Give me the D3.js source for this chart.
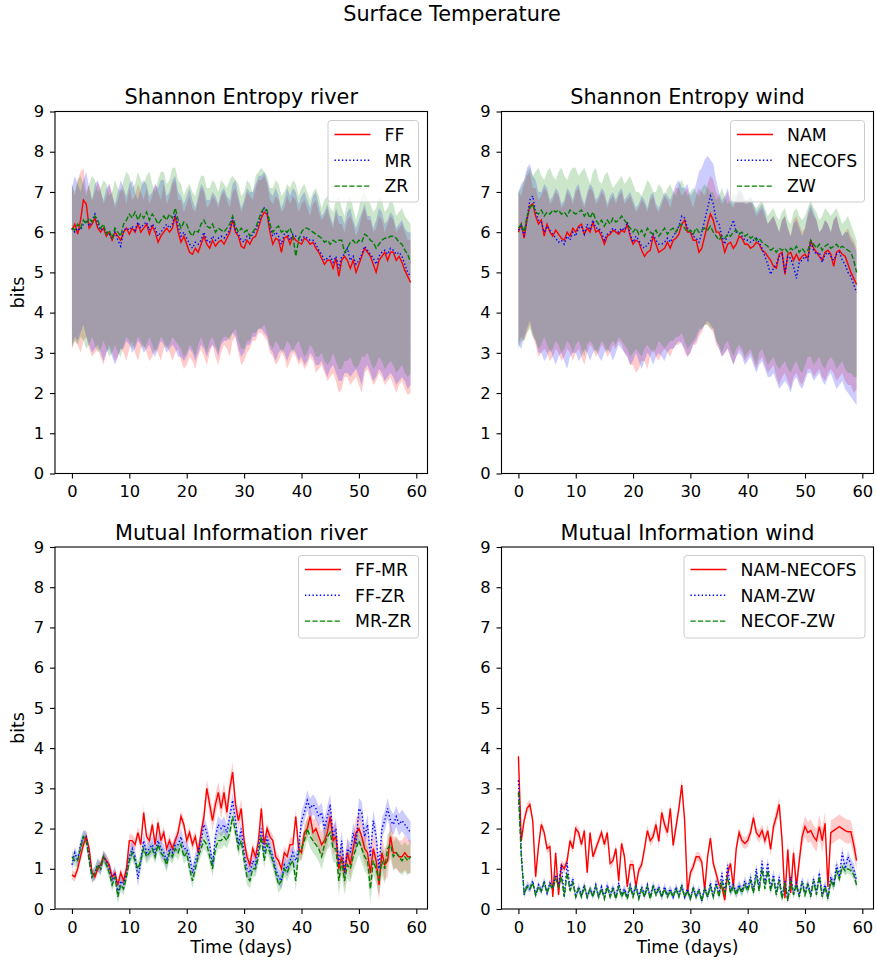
<!DOCTYPE html>
<html>
<head>
<meta charset="utf-8">
<script src="https://cdn.jsdelivr.net/npm/d3@7"></script>
<style>
  body { margin: 0; background: #fff; }
  text { font-family: "DejaVu Sans", sans-serif; fill: #000; }
</style>
</head>
<body>
<div id="chart"></div>
<script>
const WIDTH = 877;
const HEIGHT = 964;
const STEP = 0.5; // days between samples, t = 0..59

const X_TICKS = [0, 10, 20, 30, 40, 50, 60];
const Y_TICKS = [0, 1, 2, 3, 4, 5, 6, 7, 8, 9];

// ---- Shannon entropy, river
const seRiverFF = [
  6.05,6.2,5.95,6.3,6.8,6.7,6.1,6.2,6.35,6.1,
  6.0,6.1,5.9,6.0,5.8,6.0,5.9,5.8,6.0,6.1,
  5.95,6.1,6.0,6.2,6.0,6.1,6.2,5.95,6.15,6.0,
  5.75,5.9,6.0,6.1,6.0,6.1,6.4,6.0,5.75,5.9,
  5.7,5.5,5.45,5.6,5.5,5.7,5.9,5.7,5.6,5.8,
  5.65,5.75,5.8,5.7,5.85,6.0,6.3,6.0,5.9,5.65,
  5.6,5.8,5.7,5.85,5.9,6.1,6.35,6.5,6.45,6.0,
  5.7,5.85,5.8,5.5,5.85,5.9,5.7,5.9,5.8,5.75,
  5.7,5.85,5.8,5.7,5.75,5.6,5.5,5.35,5.2,5.3,
  5.3,5.1,5.35,4.9,5.3,5.4,5.3,5.1,5.3,5.0,
  5.2,5.4,5.6,5.5,5.4,5.2,5.0,5.3,5.4,5.5,
  5.3,5.5,5.5,5.3,5.4,5.25,5.05,4.9,4.75
];
const seRiverMR = [
  6.1,6.0,6.1,6.05,6.2,6.3,6.15,6.3,6.45,6.2,
  6.05,6.1,6.0,5.95,5.85,6.0,5.8,5.65,6.05,6.1,
  6.05,6.15,6.05,6.25,6.1,6.2,6.25,6.05,6.2,6.1,
  5.9,6.0,6.1,6.2,6.1,6.2,6.45,6.15,5.9,6.0,
  5.85,5.7,5.6,5.75,5.7,5.8,6.0,5.8,5.75,5.9,
  5.8,5.85,5.9,5.85,5.95,6.05,6.35,6.05,5.95,5.8,
  5.75,5.9,5.85,5.95,6.05,6.2,6.45,6.6,6.5,6.1,
  5.9,6.0,5.9,5.7,5.95,6.0,5.8,5.95,5.9,5.85,
  5.8,5.9,5.85,5.8,5.8,5.7,5.55,5.45,5.3,5.35,
  5.4,5.25,5.4,5.1,5.4,5.45,5.6,5.3,5.4,5.2,
  5.3,5.45,5.65,5.55,5.45,5.35,5.2,5.4,5.5,5.55,
  5.45,5.6,5.55,5.45,5.5,5.4,5.2,5.0,4.9
];
const seRiverZR = [
  6.1,6.05,6.2,6.1,6.3,6.2,6.35,6.25,6.4,6.3,
  6.1,6.2,5.95,6.05,5.85,6.1,6.0,5.9,6.2,6.3,
  6.45,6.35,6.5,6.3,6.45,6.35,6.5,6.3,6.45,6.35,
  6.2,6.3,6.4,6.3,6.45,6.35,6.6,6.3,6.1,6.25,
  6.2,6.0,5.9,6.05,6.0,6.2,6.3,6.15,6.1,6.2,
  6.0,6.1,6.05,6.0,6.1,6.2,6.4,6.15,6.0,6.1,
  6.0,6.05,5.9,6.0,6.1,6.3,6.5,6.6,6.55,6.2,
  6.0,6.1,6.15,6.0,6.05,6.0,6.1,5.9,5.4,5.8,
  6.0,6.1,6.1,6.05,6.0,5.95,5.9,5.85,5.75,5.8,
  5.7,5.8,5.75,5.8,5.8,5.5,5.6,5.75,5.8,5.7,
  5.8,5.75,5.95,5.9,5.8,5.75,5.6,5.7,5.8,5.85,
  5.85,5.9,5.9,5.85,5.75,5.7,5.55,5.45,5.25
];

// ---- Shannon entropy, wind
const seWindNAM = [
  6.0,6.2,5.85,6.3,6.65,6.7,6.4,6.2,6.3,5.9,
  6.2,6.0,5.9,6.05,5.95,5.85,5.8,6.0,5.9,6.1,
  6.0,6.15,6.2,5.95,6.1,6.0,6.25,6.0,6.05,5.9,
  5.7,5.9,5.95,6.05,6.0,5.95,6.05,6.0,6.2,5.9,
  5.7,5.8,5.75,5.55,5.4,5.5,5.55,5.9,5.7,5.5,
  5.55,5.6,5.75,5.6,5.8,5.85,5.95,6.2,6.3,6.0,
  6.0,5.8,5.8,5.5,5.6,5.9,6.2,6.45,6.3,6.0,
  6.0,5.8,5.5,5.7,5.75,5.6,5.7,5.9,5.85,5.7,
  5.7,5.6,5.65,5.75,5.7,5.55,5.5,5.4,5.3,5.15,
  5.1,5.45,5.5,4.95,5.45,5.5,5.3,5.45,5.3,5.4,
  5.45,5.35,5.8,5.6,5.5,5.4,5.3,5.5,5.55,5.45,
  5.15,5.5,5.55,5.45,5.4,5.2,5.0,4.85,4.7
];
const seWindNECOFS = [
  6.05,6.15,5.9,6.35,6.8,6.9,6.5,6.3,6.25,6.0,
  6.15,6.05,5.95,5.85,5.75,5.8,5.7,5.9,5.8,6.0,
  5.9,6.1,6.15,5.95,6.2,6.05,6.3,6.1,6.1,6.0,
  5.8,5.95,6.0,6.1,6.05,6.0,6.1,6.05,6.25,5.95,
  5.75,5.9,5.8,5.65,5.6,5.7,5.75,5.95,5.8,5.7,
  5.7,5.75,5.85,5.75,5.9,6.0,6.15,6.4,6.35,6.1,
  6.05,5.9,5.85,5.75,6.0,6.3,6.6,6.9,6.7,6.3,
  6.2,5.9,5.7,5.95,6.1,6.3,6.0,6.0,5.9,5.8,
  5.8,5.75,5.8,5.85,5.75,5.6,5.4,5.2,4.95,5.1,
  5.2,5.4,5.45,5.0,5.4,5.35,5.15,4.85,5.25,5.3,
  5.4,5.3,5.75,5.55,5.45,5.5,5.25,5.45,5.5,5.4,
  5.3,5.45,5.5,5.3,5.2,5.0,4.9,4.7,4.5
];
const seWindZW = [
  6.1,6.2,6.0,6.4,6.6,6.7,6.5,6.45,6.55,6.4,
  6.5,6.45,6.55,6.5,6.55,6.45,6.5,6.4,6.55,6.5,
  6.45,6.5,6.55,6.4,6.5,6.35,6.5,6.3,6.2,6.3,
  6.15,6.3,6.2,6.35,6.25,6.3,6.4,6.3,6.2,6.1,
  6.0,6.1,5.95,6.05,5.9,6.1,6.0,5.95,6.05,5.9,
  6.0,6.1,5.95,6.05,6.1,6.0,6.15,6.2,6.1,6.0,
  6.05,5.95,6.1,6.0,6.05,6.1,6.05,6.15,6.0,5.9,
  5.8,5.9,5.85,5.95,5.9,6.0,6.05,5.95,6.0,5.9,
  5.95,5.85,5.9,5.8,5.85,5.75,5.7,5.65,5.55,5.6,
  5.5,5.6,5.55,5.6,5.5,5.6,5.55,5.65,5.5,5.6,
  5.5,5.55,5.8,5.7,5.6,5.7,5.55,5.65,5.7,5.6,
  5.65,5.7,5.6,5.65,5.6,5.55,5.5,5.3,5.0
];

// ---- entropy spread bands, upper and lower edges
const seRiverFFHi = [
  7.2,6.9,7.3,7.5,7.6,7.0,7.2,6.8,7.0,7.25,
  7.1,6.7,6.9,7.2,7.0,6.6,6.8,7.1,7.0,6.7,
  7.1,6.8,6.9,7.2,7.0,6.8,7.1,6.7,6.9,7.2,
  7.0,6.8,7.2,6.7,6.9,7.2,7.3,6.8,6.8,6.5,
  6.7,6.9,6.6,6.5,6.8,7.1,7.0,6.6,6.7,6.9,
  6.8,6.6,6.9,7.0,6.8,6.6,7.0,7.1,6.8,6.5,
  6.7,7.0,6.9,6.8,7.1,7.3,7.3,7.4,7.2,6.8,
  6.7,6.9,6.8,6.5,6.6,6.9,6.7,6.9,6.8,6.5,
  6.7,6.8,6.6,6.4,6.7,6.8,6.5,6.3,6.4,6.6,
  6.3,6.1,6.5,6.2,6.2,6.0,6.3,6.4,6.2,5.9,
  6.1,6.4,6.6,6.3,6.3,6.0,6.1,6.4,6.3,6.0,
  6.2,6.4,6.3,6.0,6.1,6.2,6.0,5.8,5.8
];
const seRiverMRHi = [
  7.1,7.4,7.2,7.0,7.3,7.5,7.1,6.8,7.2,7.3,
  7.0,6.8,7.1,7.2,6.9,6.7,7.0,7.3,7.1,6.9,
  7.2,7.3,7.0,6.8,7.1,7.3,7.2,6.9,7.0,7.2,
  7.1,7.3,7.3,6.9,7.0,7.3,7.4,7.0,6.9,6.7,
  6.9,7.1,6.8,6.6,6.9,7.2,7.1,6.8,6.8,7.0,
  6.9,6.7,7.0,7.1,6.9,6.8,7.2,7.3,6.9,6.6,
  6.8,7.1,7.0,7.0,7.2,7.4,7.4,7.5,7.3,7.0,
  6.9,7.1,6.9,6.6,6.8,7.1,6.9,7.1,7.0,6.7,
  6.9,7.0,6.8,6.6,6.9,7.0,6.7,6.4,6.5,6.7,
  6.4,6.2,6.6,6.4,6.4,6.2,6.5,6.6,6.3,6.1,
  6.3,6.5,6.7,6.4,6.4,6.1,6.3,6.6,6.5,6.2,
  6.3,6.5,6.4,6.1,6.2,6.3,6.1,6.0,6.0
];
const seRiverZRHi = [
  7.2,7.0,7.3,7.4,7.2,6.9,7.2,7.4,7.3,7.0,
  7.1,7.3,7.2,6.9,7.0,7.3,7.1,7.0,7.3,7.5,
  7.4,7.1,7.2,7.5,7.3,7.2,7.4,7.5,7.2,7.0,
  7.3,7.5,7.5,7.2,7.3,7.6,7.6,7.3,7.2,6.9,
  7.1,7.2,7.0,6.9,7.2,7.4,7.4,7.1,7.1,7.3,
  7.2,7.0,7.3,7.2,7.1,7.3,7.4,7.3,7.2,6.9,
  7.0,7.3,7.2,7.0,7.4,7.5,7.6,7.5,7.4,7.1,
  7.1,7.3,7.2,6.9,7.0,7.2,7.1,7.3,7.2,6.9,
  7.1,7.2,7.0,6.8,7.0,7.1,6.9,6.6,6.8,6.9,
  6.6,6.5,6.8,6.9,6.6,6.4,6.8,6.9,6.6,6.3,
  6.6,6.9,7.0,6.8,6.7,6.5,6.6,6.9,6.8,6.5,
  6.6,6.8,6.7,6.4,6.5,6.6,6.4,6.3,6.2
];
const seRiverFFLo = [
  3.1,3.3,3.2,3.0,3.3,3.4,3.1,2.9,3.0,3.1,
  2.9,2.7,3.0,3.2,3.0,2.8,2.9,3.1,3.0,2.8,
  3.1,3.3,3.0,2.8,3.1,3.2,3.0,2.8,2.9,3.1,
  3.0,2.8,3.1,3.2,3.0,2.8,3.0,3.1,2.8,2.6,
  2.7,2.9,2.8,2.6,2.9,3.1,2.9,2.7,3.0,3.2,
  2.9,2.7,3.0,3.2,3.1,2.9,3.3,3.4,3.0,2.7,
  2.8,3.0,3.1,3.3,3.3,3.5,3.5,3.4,3.3,3.0,
  2.9,2.7,2.8,3.0,2.9,2.6,2.8,3.0,2.9,2.7,
  2.8,2.6,2.7,2.9,2.8,2.5,2.6,2.7,2.5,2.3,
  2.4,2.5,2.3,2.0,2.1,2.4,2.4,2.2,2.3,2.4,
  2.2,2.0,2.5,2.6,2.4,2.2,2.3,2.5,2.4,2.2,
  2.3,2.4,2.2,2.0,2.2,2.3,2.1,1.95,2.0
];
const seRiverMRLo = [
  3.2,3.4,3.3,3.5,3.7,3.4,3.2,3.0,3.1,3.2,
  3.0,2.8,3.0,3.1,2.9,2.7,2.9,3.1,3.1,3.3,
  3.2,3.0,3.1,3.3,3.2,3.0,3.1,3.2,3.0,2.9,
  3.1,3.3,3.2,3.0,3.1,3.2,3.1,2.9,2.9,2.8,
  2.9,3.1,3.0,2.8,3.0,3.2,3.1,2.9,3.1,3.2,
  3.1,2.9,3.2,3.3,3.3,3.4,3.5,3.4,3.1,2.9,
  3.0,3.2,3.2,3.4,3.4,3.6,3.6,3.5,3.4,3.1,
  3.0,2.8,3.0,3.1,3.0,2.8,3.0,3.1,3.0,2.8,
  2.9,2.7,2.8,3.0,2.9,2.7,2.7,2.8,2.6,2.4,
  2.6,2.7,2.5,2.3,2.3,2.5,2.5,2.4,2.5,2.6,
  2.4,2.2,2.6,2.7,2.5,2.3,2.4,2.6,2.5,2.3,
  2.4,2.5,2.4,2.2,2.3,2.4,2.3,2.1,2.2
];
const seRiverZRLo = [
  3.1,3.3,3.2,3.4,3.3,3.1,3.2,3.4,3.2,3.0,
  3.1,3.3,3.1,2.9,3.0,3.2,3.0,2.9,3.2,3.4,
  3.3,3.1,3.2,3.4,3.3,3.1,3.2,3.4,3.2,3.0,
  3.2,3.4,3.3,3.1,3.2,3.4,3.3,3.2,3.1,2.9,
  3.0,3.2,3.1,2.9,3.2,3.4,3.2,3.0,3.3,3.4,
  3.2,3.0,3.3,3.4,3.4,3.3,3.5,3.6,3.3,3.1,
  3.1,3.3,3.3,3.5,3.5,3.6,3.6,3.7,3.5,3.2,
  3.1,3.3,3.2,3.0,3.1,3.3,3.2,3.0,3.2,3.3,
  3.1,2.9,3.0,3.2,3.1,2.9,2.9,3.0,2.8,2.7,
  2.8,3.0,2.8,2.6,2.6,2.8,2.8,2.9,2.7,2.6,
  2.7,2.9,2.9,3.0,2.8,2.6,2.7,2.9,2.8,2.6,
  2.7,2.8,2.7,2.5,2.6,2.7,2.5,2.4,2.5
];

const seWindNAMHi = [
  7.0,6.9,7.2,7.4,7.5,7.1,7.1,6.8,6.9,7.1,
  7.0,6.7,6.8,7.0,6.9,6.6,6.7,7.0,6.9,6.7,
  7.0,7.1,6.8,6.6,6.9,7.1,7.0,6.7,6.8,7.0,
  6.9,6.6,6.8,6.9,6.7,6.9,7.0,6.7,6.8,6.9,
  6.7,6.5,6.6,6.8,6.7,6.5,6.8,6.9,6.6,6.5,
  6.7,6.9,6.8,6.6,6.9,7.1,7.1,6.9,7.0,7.1,
  6.8,6.6,6.9,7.1,7.0,6.9,7.2,7.4,7.3,7.0,
  6.9,6.7,6.8,7.0,6.7,6.6,6.8,7.0,6.9,6.7,
  6.7,6.8,6.6,6.4,6.5,6.6,6.4,6.2,6.3,6.4,
  6.2,6.0,6.3,6.4,6.1,5.9,6.3,6.4,6.2,6.0,
  6.1,6.4,6.6,6.4,6.3,6.0,6.1,6.3,6.2,6.0,
  6.3,6.4,6.1,5.9,6.0,6.1,5.9,5.8,5.6
];
const seWindNECOFSHi = [
  7.0,7.2,7.3,7.6,7.7,7.4,7.3,7.0,7.0,7.2,
  7.1,6.8,6.9,7.1,7.0,6.7,6.8,7.1,7.0,6.8,
  7.1,7.2,6.9,6.7,7.0,7.2,7.1,6.8,6.9,7.1,
  7.0,6.7,6.9,7.0,6.8,7.0,7.1,6.8,6.9,7.0,
  6.8,6.6,6.7,6.9,6.8,6.6,6.9,7.0,6.7,6.6,
  6.8,7.0,6.9,6.8,7.0,7.2,7.3,7.1,7.1,7.2,
  6.9,7.0,7.2,7.5,7.6,7.8,7.9,7.8,7.7,7.3,
  7.0,6.8,6.9,7.1,6.8,6.7,6.9,7.1,7.0,6.8,
  6.8,6.9,6.7,6.5,6.6,6.7,6.5,6.2,6.3,6.4,
  6.2,6.0,6.3,6.4,6.1,5.9,6.2,6.3,6.1,5.9,
  6.1,6.5,6.7,6.5,6.3,6.0,6.1,6.3,6.2,6.0,
  6.3,6.4,6.1,5.9,6.0,6.0,5.8,5.7,5.5
];
const seWindZWHi = [
  7.0,7.1,7.3,7.5,7.6,7.4,7.5,7.6,7.4,7.3,
  7.5,7.6,7.4,7.3,7.5,7.6,7.4,7.3,7.5,7.6,
  7.6,7.4,7.5,7.6,7.4,7.2,7.5,7.6,7.3,7.2,
  7.4,7.5,7.3,7.1,7.2,7.3,7.4,7.2,7.3,7.4,
  7.2,7.0,7.0,6.9,7.1,7.3,7.2,7.0,7.0,7.2,
  7.1,6.9,7.1,7.2,7.0,6.9,7.2,7.3,7.1,6.9,
  7.0,7.1,7.0,6.9,7.1,7.2,7.1,7.0,7.0,6.8,
  6.9,7.1,6.9,6.7,6.8,7.0,6.9,7.1,7.0,6.8,
  6.8,6.9,6.7,6.6,6.7,6.8,6.6,6.4,6.5,6.6,
  6.4,6.3,6.5,6.6,6.3,6.2,6.5,6.6,6.4,6.3,
  6.4,6.6,6.8,6.6,6.5,6.3,6.4,6.6,6.5,6.4,
  6.5,6.6,6.4,6.2,6.3,6.4,6.2,6.0,5.8
];
const seWindNAMLo = [
  3.2,3.4,3.3,3.5,3.7,3.4,3.2,2.9,3.0,3.1,
  3.0,2.8,2.9,3.1,3.0,2.8,2.9,3.1,3.0,2.8,
  3.0,3.1,2.9,2.7,3.0,3.2,3.1,2.9,3.0,3.2,
  3.1,2.9,3.0,3.2,3.1,3.3,3.2,3.0,2.9,2.7,
  2.7,2.5,2.6,2.8,2.8,2.6,2.9,3.1,2.9,2.8,
  3.0,3.1,3.0,2.9,3.1,3.2,3.2,3.3,3.0,2.9,
  3.0,3.2,3.2,3.4,3.5,3.7,3.7,3.6,3.5,3.2,
  3.1,2.9,3.0,3.1,2.9,2.7,2.9,3.1,3.0,2.8,
  2.9,3.0,2.8,2.6,2.8,2.9,2.7,2.5,2.6,2.7,
  2.4,2.2,2.4,2.5,2.3,2.1,2.4,2.5,2.3,2.2,
  2.4,2.6,2.6,2.4,2.5,2.6,2.4,2.3,2.5,2.6,
  2.5,2.3,2.4,2.5,2.3,2.2,2.2,2.0,2.1
];
const seWindNECOFSLo = [
  3.2,3.1,3.4,3.6,3.8,3.5,3.3,3.0,3.0,2.8,
  2.9,3.1,2.9,2.7,2.9,3.0,2.8,2.6,2.9,3.0,
  3.0,2.8,2.9,3.1,3.0,2.8,3.0,3.1,2.9,2.8,
  3.0,3.1,3.0,2.8,3.0,3.2,3.1,3.0,2.9,2.7,
  2.8,3.0,2.8,2.6,2.8,3.0,2.9,2.7,2.9,3.0,
  2.9,2.8,3.0,3.1,3.1,3.2,3.3,3.2,3.1,2.9,
  3.0,3.2,3.3,3.5,3.6,3.7,3.8,3.7,3.6,3.3,
  3.1,2.9,3.0,3.1,2.9,2.7,2.9,3.0,2.9,2.7,
  2.8,2.9,2.7,2.5,2.7,2.8,2.6,2.4,2.4,2.5,
  2.3,2.1,2.2,2.3,2.2,2.0,2.3,2.4,2.2,2.1,
  2.3,2.5,2.5,2.3,2.4,2.5,2.3,2.2,2.4,2.5,
  2.3,2.1,2.2,2.3,2.1,2.0,1.9,1.8,1.7
];
const seWindZWLo = [
  3.1,3.3,3.3,3.5,3.6,3.4,3.3,3.1,3.2,3.4,
  3.2,3.0,3.1,3.3,3.2,3.0,3.1,3.3,3.2,3.0,
  3.2,3.3,3.1,2.9,3.2,3.3,3.2,3.0,3.1,3.3,
  3.2,3.0,3.2,3.3,3.2,3.4,3.3,3.2,3.1,2.9,
  3.0,3.1,3.0,2.9,3.1,3.2,3.1,3.0,3.1,3.3,
  3.2,3.1,3.2,3.3,3.3,3.4,3.4,3.5,3.3,3.1,
  3.2,3.3,3.4,3.6,3.6,3.7,3.7,3.6,3.6,3.3,
  3.2,3.0,3.2,3.3,3.1,2.9,3.1,3.2,3.1,2.9,
  3.0,3.1,2.9,2.7,3.0,3.1,2.9,2.7,2.8,2.9,
  2.7,2.6,2.7,2.8,2.6,2.5,2.7,2.8,2.6,2.5,
  2.7,2.9,2.9,2.7,2.8,2.9,2.7,2.6,2.8,2.9,
  2.8,2.6,2.7,2.8,2.6,2.5,2.5,2.4,2.4
];

// ---- Mutual information, river
const miRiverFFMR = [
  0.85,0.8,1.0,1.3,1.6,1.8,1.5,0.9,0.8,1.0,
  1.1,1.3,1.2,1.1,0.8,0.9,0.6,0.9,0.7,1.0,
  1.7,1.7,1.6,1.9,1.6,2.4,1.8,1.7,2.1,1.6,
  2.15,1.7,1.9,1.5,1.7,1.5,1.7,1.9,2.3,2.1,
  1.7,1.9,1.6,1.8,1.4,1.9,2.3,3.0,2.6,2.2,
  2.6,2.9,2.5,2.9,2.4,3.0,3.4,2.6,2.2,2.5,
  1.7,1.3,1.1,1.5,1.3,1.7,2.5,1.6,2.0,1.8,
  1.7,1.3,1.2,1.0,1.4,1.3,1.6,1.6,2.3,1.5,
  1.4,1.9,2.0,2.3,1.9,2.0,1.8,1.6,1.7,1.9,
  2.3,1.7,1.8,1.0,1.3,0.9,1.4,1.1,1.5,1.9,
  2.0,1.8,1.5,1.4,0.9,1.5,1.2,0.6,1.4,1.1,
  1.2,1.8,1.4,1.4,1.3,1.3,1.4,1.3,1.3
];
const miRiverFFZR = [
  1.1,1.4,1.2,1.6,1.8,1.8,1.3,0.8,0.9,1.1,
  1.0,1.3,1.2,1.0,0.7,0.9,0.4,0.7,0.6,0.9,
  1.3,1.5,1.3,0.75,1.2,1.7,1.4,1.5,1.6,1.4,
  1.7,1.5,1.4,1.2,1.5,1.4,1.6,1.6,1.8,1.5,
  1.5,1.3,0.9,1.2,1.4,1.7,2.1,1.9,1.6,1.1,
  1.8,2.1,2.0,2.1,1.9,2.3,2.7,2.2,1.6,2.0,
  1.4,1.0,0.9,1.2,1.1,1.5,2.0,1.4,1.8,1.5,
  1.3,1.0,0.8,0.7,1.1,1.0,1.2,1.4,1.2,1.5,
  2.2,2.4,2.7,2.5,2.6,2.5,2.3,2.4,2.0,2.3,
  2.6,1.8,2.0,1.1,1.7,0.9,1.5,1.4,1.9,1.6,
  2.5,2.4,1.8,2.1,1.3,2.2,1.8,1.0,2.0,2.2,
  2.5,2.2,2.1,2.3,2.1,2.2,2.1,2.0,1.9
];
const miRiverMRZR = [
  1.3,1.2,1.2,1.5,1.8,1.7,1.2,0.8,0.9,1.1,
  1.0,1.3,1.1,0.9,0.6,0.8,0.3,0.6,0.5,0.8,
  1.2,1.4,1.2,1.0,1.2,1.5,1.3,1.4,1.5,1.3,
  1.6,1.4,1.3,1.1,1.4,1.3,1.5,1.4,1.6,1.3,
  1.4,1.0,0.7,1.0,1.3,1.5,1.7,1.6,1.3,1.0,
  1.5,1.7,1.7,1.8,1.7,1.9,2.3,1.9,1.5,1.7,
  1.2,0.8,0.7,1.0,1.0,1.3,1.8,1.2,1.6,1.4,
  1.2,0.9,0.6,0.7,1.0,0.9,1.1,1.2,0.7,1.4,
  1.5,1.7,2.0,1.8,1.7,1.6,1.5,1.3,1.6,1.8,
  1.9,1.5,1.5,0.7,1.2,0.7,1.1,1.0,1.3,1.5,
  1.7,1.5,1.3,1.2,0.5,1.2,1.0,0.7,1.2,1.0,
  1.5,1.6,1.3,1.4,1.3,1.2,1.3,1.2,1.3
];

// ---- Mutual information, wind
const miWindNAMNECOFS = [
  3.8,1.7,2.2,2.5,2.6,2.2,0.8,1.55,2.1,1.9,
  1.5,1.55,0.3,1.4,0.35,1.1,1.0,1.2,1.7,1.5,
  2.0,1.9,1.6,1.95,0.9,1.9,1.3,1.5,1.7,1.9,
  1.6,1.9,1.13,1.2,1.5,0.7,1.63,1.3,0.55,1.1,
  1.1,0.55,0.97,1.1,1.5,1.95,1.7,1.8,2.1,1.68,
  2.4,2.1,1.9,2.5,1.58,2.05,2.5,3.08,2.2,0.4,
  0.9,1.05,1.3,1.3,1.17,0.47,1.3,1.76,1.13,0.88,
  0.6,0.55,0.22,0.9,1.13,0.55,1.5,1.9,1.7,1.63,
  1.7,1.9,2.27,1.9,1.8,1.95,1.7,1.95,1.48,2.05,
  2.3,2.6,1.7,0.27,1.48,0.4,1.4,0.55,1.2,1.8,
  2.05,1.9,1.95,1.8,1.7,2.05,1.7,2.13,0.55,1.9,
  1.95,2.0,2.05,2.0,1.95,1.92,1.92,1.6,1.2
];
const miWindNAMZW = [
  3.2,1.4,0.35,0.6,0.5,0.7,0.35,0.6,0.45,0.7,
  0.4,0.65,0.55,0.85,0.6,1.1,0.3,1.15,0.5,0.75,
  0.3,0.55,0.35,0.6,0.3,0.5,0.35,0.6,0.3,0.55,
  0.3,0.6,0.35,0.55,0.3,0.65,0.35,0.5,0.3,0.6,
  0.35,0.6,0.3,0.55,0.35,0.6,0.3,0.6,0.4,0.55,
  0.3,0.55,0.35,0.5,0.3,0.55,0.35,0.6,0.3,0.5,
  0.25,0.55,0.3,0.5,0.2,0.55,0.3,0.65,0.3,0.7,
  0.35,0.9,0.4,1.1,0.45,0.6,0.4,0.6,0.45,0.7,
  0.5,0.8,0.45,1.0,0.5,1.2,0.6,1.15,0.5,0.85,
  0.4,0.8,0.3,0.7,0.25,0.8,0.4,0.65,0.35,0.7,
  0.4,0.65,0.35,0.75,0.4,0.9,0.35,0.6,0.3,0.8,
  0.6,1.1,0.8,1.4,1.0,1.3,1.1,1.0,0.7
];
const miWindNECOFZW = [
  2.9,1.3,0.4,0.55,0.5,0.65,0.35,0.55,0.45,0.65,
  0.4,0.6,0.5,0.75,0.55,0.8,0.3,0.9,0.45,0.65,
  0.3,0.5,0.3,0.55,0.3,0.5,0.3,0.55,0.3,0.5,
  0.25,0.55,0.3,0.5,0.25,0.55,0.3,0.45,0.25,0.55,
  0.3,0.55,0.25,0.5,0.3,0.55,0.25,0.55,0.35,0.5,
  0.3,0.5,0.3,0.45,0.3,0.5,0.3,0.55,0.3,0.45,
  0.25,0.5,0.3,0.45,0.2,0.5,0.3,0.55,0.3,0.6,
  0.3,0.7,0.35,0.8,0.4,0.55,0.35,0.55,0.4,0.6,
  0.45,0.7,0.4,0.85,0.45,1.0,0.5,0.95,0.45,0.75,
  0.35,0.7,0.25,0.65,0.2,0.7,0.35,0.6,0.3,0.65,
  0.35,0.6,0.3,0.7,0.35,0.8,0.3,0.55,0.25,0.7,
  0.55,0.95,0.75,1.05,0.95,1.0,0.95,0.85,0.6
];

// ---- mutual information spread (half width, one value per day)
const miRiverFFMRSpread = [0.12,0.12,0.13,0.12,0.12,0.12,0.13,0.12,0.12,0.13,0.15,0.15,0.16,0.15,0.15,0.16,0.15,0.15,0.16,0.15,0.15,0.16,0.17,0.22,0.25,0.25,0.26,0.25,0.25,0.24,0.18,0.16,0.15,0.16,0.15,0.16,0.15,0.16,0.18,0.2,0.22,0.25,0.3,0.32,0.33,0.35,0.35,0.36,0.35,0.36,0.37,0.38,0.38,0.4,0.4,0.4,0.4,0.4,0.42,0.42];
const miRiverFFZRSpread = [0.15,0.16,0.15,0.15,0.16,0.15,0.16,0.17,0.16,0.17,0.2,0.2,0.21,0.2,0.2,0.2,0.21,0.2,0.2,0.2,0.2,0.2,0.21,0.2,0.2,0.21,0.2,0.2,0.2,0.21,0.2,0.2,0.2,0.2,0.2,0.21,0.2,0.2,0.21,0.22,0.24,0.25,0.25,0.25,0.26,0.25,0.25,0.26,0.25,0.25,0.26,0.25,0.25,0.26,0.25,0.26,0.26,0.27,0.27,0.28];
const miRiverMRZRSpread = [0.15,0.15,0.16,0.15,0.15,0.16,0.15,0.16,0.17,0.16,0.18,0.18,0.19,0.18,0.18,0.18,0.19,0.18,0.18,0.18,0.18,0.18,0.19,0.2,0.2,0.2,0.21,0.2,0.2,0.2,0.2,0.2,0.19,0.2,0.2,0.2,0.2,0.21,0.22,0.24,0.26,0.28,0.3,0.32,0.33,0.34,0.35,0.35,0.35,0.36,0.35,0.36,0.36,0.36,0.37,0.36,0.37,0.37,0.37,0.38];
const miWindNAMNECOFSSpread = [0.15,0.12,0.12,0.12,0.12,0.12,0.12,0.12,0.12,0.12,0.12,0.12,0.12,0.12,0.12,0.12,0.12,0.12,0.12,0.12,0.12,0.12,0.13,0.14,0.15,0.15,0.15,0.15,0.16,0.15,0.13,0.12,0.12,0.12,0.12,0.12,0.12,0.12,0.13,0.14,0.15,0.15,0.16,0.16,0.17,0.18,0.2,0.2,0.22,0.24,0.26,0.28,0.28,0.3,0.3,0.3,0.3,0.3,0.28,0.25];
const miWindNAMZWSpread = [0.12,0.1,0.1,0.1,0.1,0.1,0.1,0.1,0.1,0.1,0.1,0.1,0.1,0.1,0.1,0.1,0.1,0.1,0.1,0.1,0.1,0.1,0.1,0.1,0.1,0.1,0.1,0.1,0.1,0.1,0.1,0.1,0.1,0.1,0.1,0.11,0.12,0.12,0.12,0.12,0.12,0.13,0.13,0.13,0.13,0.13,0.12,0.12,0.12,0.12,0.12,0.12,0.12,0.12,0.13,0.14,0.15,0.15,0.15,0.15];
const miWindNECOFZWSpread = [0.1,0.08,0.08,0.08,0.08,0.08,0.08,0.08,0.08,0.08,0.08,0.08,0.08,0.08,0.08,0.08,0.08,0.08,0.08,0.08,0.08,0.08,0.08,0.08,0.08,0.08,0.08,0.08,0.08,0.08,0.08,0.08,0.08,0.08,0.08,0.09,0.1,0.1,0.1,0.1,0.1,0.1,0.1,0.1,0.1,0.1,0.1,0.1,0.1,0.1,0.1,0.1,0.1,0.1,0.1,0.11,0.12,0.12,0.12,0.12];

const RED = '#ff0000', BLUE = '#0000ff', GREEN = '#008000';
const SOLID = null, DOTTED = '1.4,2.3', DASHED = '5.2,2.2';

const panels = [
  { title: 'Shannon Entropy river', left: 55, right: 427.5, top: 111.5, bottom: 473.5, yLabel: true, xLabel: false,
    legend: { x: 328, y: 120.5, w: 90.5, h: 81.5 },
    series: [
      { name: 'FF', color: RED, dash: SOLID, values: seRiverFF, hi: seRiverFFHi, lo: seRiverFFLo },
      { name: 'MR', color: BLUE, dash: DOTTED, values: seRiverMR, hi: seRiverMRHi, lo: seRiverMRLo },
      { name: 'ZR', color: GREEN, dash: DASHED, values: seRiverZR, hi: seRiverZRHi, lo: seRiverZRLo }
    ] },
  { title: 'Shannon Entropy wind', left: 501.5, right: 873.5, top: 111.5, bottom: 473.5, yLabel: false, xLabel: false,
    legend: { x: 730.5, y: 120.5, w: 134, h: 81.5 },
    series: [
      { name: 'NAM', color: RED, dash: SOLID, values: seWindNAM, hi: seWindNAMHi, lo: seWindNAMLo },
      { name: 'NECOFS', color: BLUE, dash: DOTTED, values: seWindNECOFS, hi: seWindNECOFSHi, lo: seWindNECOFSLo },
      { name: 'ZW', color: GREEN, dash: DASHED, values: seWindZW, hi: seWindZWHi, lo: seWindZWLo }
    ] },
  { title: 'Mutual Information river', left: 55, right: 427.5, top: 547, bottom: 909, yLabel: true, xLabel: true,
    legend: { x: 298.5, y: 555.5, w: 120, h: 82.5 },
    series: [
      { name: 'FF-MR', color: RED, dash: SOLID, values: miRiverFFMR, spread: miRiverFFMRSpread },
      { name: 'FF-ZR', color: BLUE, dash: DOTTED, values: miRiverFFZR, spread: miRiverFFZRSpread },
      { name: 'MR-ZR', color: GREEN, dash: DASHED, values: miRiverMRZR, spread: miRiverMRZRSpread }
    ] },
  { title: 'Mutual Information wind', left: 501.5, right: 873.5, top: 547, bottom: 909, yLabel: false, xLabel: true,
    legend: { x: 684, y: 555.5, w: 181, h: 82.5 },
    series: [
      { name: 'NAM-NECOFS', color: RED, dash: SOLID, values: miWindNAMNECOFS, spread: miWindNAMNECOFSSpread },
      { name: 'NAM-ZW', color: BLUE, dash: DOTTED, values: miWindNAMZW, spread: miWindNAMZWSpread },
      { name: 'NECOF-ZW', color: GREEN, dash: DASHED, values: miWindNECOFZW, spread: miWindNECOFZWSpread }
    ] }
];

const svg = d3.select('#chart')
  .append('svg')
  .attr('width', WIDTH)
  .attr('height', HEIGHT)
  .style('background', '#fff');

svg.append('text')
  .attr('x', 452)
  .attr('y', 21)
  .attr('text-anchor', 'middle')
  .style('font-size', '20.8px')
  .text('Surface Temperature');

panels.forEach(p => {
  const xScale = d3.scaleLinear().domain([-2.95, 61.95]).range([p.left, p.right]);
  const yScale = d3.scaleLinear().domain([0, 9]).range([p.bottom, p.top]);
  const g = svg.append('g');

  // shaded bands first, lines on top
  p.series.forEach(s => {
    let data;
    if (s.hi) {
      data = s.hi.map((h, i) => ({ t: i * STEP, lo: s.lo[i], hi: h }));
    } else {
      data = s.values.map((v, i) => {
        const t = i * STEP;
        const sp = s.spread[Math.min(Math.floor(t), s.spread.length - 1)];
        return { t: t, lo: v - sp, hi: v + sp };
      });
    }
    const area = d3.area()
      .x(d => xScale(d.t))
      .y0(d => yScale(d.lo))
      .y1(d => yScale(d.hi));
    g.append('path')
      .datum(data)
      .attr('d', area)
      .attr('fill', s.color)
      .attr('fill-opacity', 0.2)
      .attr('stroke', 'none');
  });

  p.series.forEach(s => {
    const line = d3.line()
      .x((d, i) => xScale(i * STEP))
      .y(d => yScale(d));
    g.append('path')
      .datum(s.values)
      .attr('d', line)
      .attr('fill', 'none')
      .attr('stroke', s.color)
      .attr('stroke-width', 1.4)
      .attr('stroke-dasharray', s.dash);
  });

  const xAxis = d3.axisBottom(xScale).tickValues(X_TICKS).tickSize(5).tickPadding(7);
  const yAxis = d3.axisLeft(yScale).tickValues(Y_TICKS).tickSize(5).tickPadding(6);
  const gx = g.append('g').attr('transform', `translate(0, ${p.bottom})`).call(xAxis);
  const gy = g.append('g').attr('transform', `translate(${p.left}, 0)`).call(yAxis);
  [gx, gy].forEach(a => {
    a.select('.domain').remove();
    a.selectAll('line').attr('stroke', '#000').attr('stroke-width', 1.1);
    a.selectAll('text').style('font-size', '16.3px').style('font-family', '"DejaVu Sans", sans-serif').attr('fill', '#000');
  });

  g.append('rect')
    .attr('x', p.left)
    .attr('y', p.top)
    .attr('width', p.right - p.left)
    .attr('height', p.bottom - p.top)
    .attr('fill', 'none')
    .attr('stroke', '#000')
    .attr('stroke-width', 1.1);

  g.append('text')
    .attr('x', (p.left + p.right) / 2)
    .attr('y', p.top - 7.5)
    .attr('text-anchor', 'middle')
    .style('font-size', '20.8px')
    .text(p.title);

  if (p.yLabel) {
    g.append('text')
      .attr('transform', `translate(24, ${(p.top + p.bottom) / 2}) rotate(-90)`)
      .attr('text-anchor', 'middle')
      .style('font-size', '17.3px')
      .text('bits');
  }
  if (p.xLabel) {
    g.append('text')
      .attr('x', (p.left + p.right) / 2)
      .attr('y', 953)
      .attr('text-anchor', 'middle')
      .style('font-size', '17.3px')
      .text('Time (days)');
  }

  // legend
  const lg = g.append('g').attr('transform', `translate(${p.legend.x}, ${p.legend.y})`);
  lg.append('rect')
    .attr('width', p.legend.w)
    .attr('height', p.legend.h)
    .attr('rx', 3)
    .attr('fill', '#fff')
    .attr('fill-opacity', 0.8)
    .attr('stroke', '#cccccc')
    .attr('stroke-width', 1);
  p.series.forEach((s, i) => {
    const y = 14 + i * 25.8;
    lg.append('line')
      .attr('x1', 6.5).attr('x2', 42.5)
      .attr('y1', y).attr('y2', y)
      .attr('stroke', s.color)
      .attr('stroke-width', 1.4)
      .attr('stroke-dasharray', s.dash);
    lg.append('text')
      .attr('x', 56.5)
      .attr('y', y + 6.2)
      .style('font-size', '17.3px')
      .text(s.name);
  });
});
</script>
</body>
</html>
